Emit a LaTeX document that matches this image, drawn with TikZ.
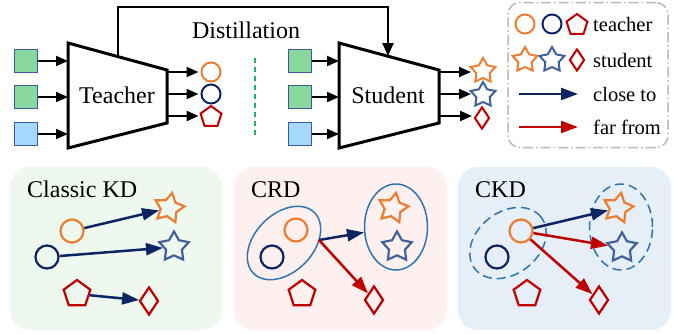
\documentclass[tikz,border=0pt]{standalone}
\usepackage{fontspec}
\setmainfont{Liberation Serif}
\usetikzlibrary{shapes.geometric,arrows.meta}
\definecolor{corange}{HTML}{ED7D31}
\definecolor{cnavy}{HTML}{0B2463}
\definecolor{cred}{HTML}{C00000}
\definecolor{cbstar}{HTML}{41619A}
\definecolor{cell}{HTML}{2E75B6}
\definecolor{sqgreen}{HTML}{88D8A0}
\definecolor{sqblue}{HTML}{A6D8FF}
\definecolor{sqedge}{HTML}{3B5A98}
\definecolor{pgreen}{HTML}{EFF8EE}
\definecolor{ppink}{HTML}{FDF0EF}
\definecolor{pblue}{HTML}{E6EEF7}
\definecolor{cdash}{HTML}{22B05A}
\begin{document}
\begin{tikzpicture}[x=1pt,y=-1pt,
  bigtext/.style={font=\fontsize{24}{28}\selectfont, inner sep=0pt},
  legtext/.style={font=\fontsize{20.5}{24}\selectfont, inner sep=0pt, anchor=base west},
  inbox/.style={draw=sqedge, line width=1.5pt, minimum size=23pt, inner sep=0pt},
  net/.style={draw=black, line width=3pt, line join=miter},
  feed/.style={draw=black, line width=2pt, -{Triangle[length=12pt,width=10pt]}},
  tcirc/.style={circle, draw=#1, line width=2pt, minimum size=19pt, inner sep=0pt},
  bcirc/.style={circle, draw=#1, line width=2.2pt, minimum size=23pt, inner sep=0pt},
  tpent/.style={regular polygon, regular polygon sides=5, draw=cred, line width=2pt, minimum size=22pt, inner sep=0pt},
  bpent/.style={regular polygon, regular polygon sides=5, draw=cred, line width=2.2pt, minimum size=28pt, inner sep=0pt},
  tstar/.style={star, star points=5, star point ratio=1.85, draw=#1, line width=2pt, minimum size=26pt, inner sep=0pt},
  bstar/.style={star, star points=5, star point ratio=1.85, draw=#1, line width=2.2pt, minimum size=31pt, inner sep=0pt},
  tdia/.style={diamond, draw=cred, line width=2pt, minimum width=15pt, minimum height=22pt, inner sep=0pt},
  bdia/.style={diamond, draw=cred, line width=2.2pt, minimum width=19pt, minimum height=28pt, inner sep=0pt},
  panel/.style={rounded corners=20pt, draw=none},
  closeto/.style={draw=cnavy, line width=2.5pt, -{Triangle[length=17pt,width=12pt]}},
  farfrom/.style={draw=cred, line width=2.5pt, -{Triangle[length=17pt,width=12pt]}},
  grpsolid/.style={ellipse, draw=cell, line width=1.5pt, inner sep=0pt},
  grpdash/.style={ellipse, draw=cell, line width=1.5pt, inner sep=0pt, dash pattern=on 9pt off 5pt},
]
\useasboundingbox (0,0) rectangle (683,333);

% ---------- top: teacher ----------
\node[inbox, fill=sqgreen] (ti1) at (26,61) {};
\node[inbox, fill=sqgreen] (ti2) at (26,97) {};
\node[inbox, fill=sqblue]  (ti3) at (26,134) {};
\coordinate (tA) at (68,43);
\coordinate (tB) at (167,70);
\coordinate (tC) at (167,123);
\coordinate (tD) at (68,148);
\draw[net] (tA) -- (tB) -- (tC) -- (tD) -- cycle;
\node[bigtext, anchor=base] (tlab) at (117,103) {Teacher};
\coordinate (tl1) at (68,61);
\coordinate (tl2) at (68,97);
\coordinate (tl3) at (68,134);
\draw[feed] (ti1.east) -- (tl1);
\draw[feed] (ti2.east) -- (tl2);
\draw[feed] (ti3.east) -- (tl3);
\node[tcirc=corange] (to1) at (211,72) {};
\node[tcirc=cnavy]   (to2) at (211,94) {};
\node[tpent]         (to3) at (211,117) {};
\coordinate (tr1) at (167,72);
\coordinate (tr2) at (167,94);
\coordinate (tr3) at (167,116);
\draw[feed] (tr1) -- ([xshift=-2pt]to1.west);
\draw[feed] (tr2) -- ([xshift=-2pt]to2.west);
\draw[feed] (tr3) -- ([xshift=-2pt]to3.west |- tr3);

% ---------- top: student ----------
\node[inbox, fill=sqgreen] (si1) at (300,61) {};
\node[inbox, fill=sqgreen] (si2) at (300,97) {};
\node[inbox, fill=sqblue]  (si3) at (300,134) {};
\coordinate (sA) at (339,43);
\coordinate (sB) at (439,70);
\coordinate (sC) at (439,123);
\coordinate (sD) at (339,148);
\draw[net] (sA) -- (sB) -- (sC) -- (sD) -- cycle;
\node[bigtext, anchor=base] (slab) at (388,103) {Student};
\coordinate (sl1) at (339,61);
\coordinate (sl2) at (339,97);
\coordinate (sl3) at (339,134);
\draw[feed] (si1.east) -- (sl1);
\draw[feed] (si2.east) -- (sl2);
\draw[feed] (si3.east) -- (sl3);
\node[tstar=corange] (so1) at (483,71) {};
\node[tstar=cbstar]  (so2) at (483,95) {};
\node[tdia]          (so3) at (482,118) {};
\coordinate (sr1) at (439,72);
\coordinate (sr2) at (439,94);
\coordinate (sr3) at (439,116);
\coordinate (se1) at (471,72);
\coordinate (se2) at (471,94);
\coordinate (se3) at (472,116);
\draw[feed] (sr1) -- (se1);
\draw[feed] (sr2) -- (se2);
\draw[feed] (sr3) -- (se3);

% ---------- distillation ----------
\coordinate (dsrc) at (118,57);
\coordinate (dup) at (118,7);
\coordinate (dover) at (388,7);
\coordinate (ddst) at (388,56);
\draw[draw=black, line width=2.5pt, line join=miter, -{Triangle[length=13pt,width=11pt]}] (dsrc) -- (dup) -- (dover) -- (ddst);
\node[bigtext, anchor=base] (dlab) at (246,38) {Distillation};
\coordinate (gd1) at (255,58);
\coordinate (gd2) at (255,136);
\draw[cdash, line width=1.6pt, dash pattern=on 5pt off 4pt] (gd1) -- (gd2);

% ---------- legend ----------
\node[draw=black!28, line width=1.5pt, rounded corners=12pt, dash pattern=on 10pt off 3pt on 1.5pt off 3pt,
      minimum width=160pt, minimum height=145pt, inner sep=0pt] (legend) at (588,75) {};
\node[tcirc=corange] (lg1) at (525,24) {};
\node[tcirc=cnavy]   (lg2) at (552,24) {};
\node[tpent]         (lg3) at (577,25) {};
\node[legtext] (lgt1) at (593,31) {teacher};
\node[tstar=corange] (lg4) at (525,60) {};
\node[tstar=cbstar]  (lg5) at (552,60) {};
\node[tdia]          (lg6) at (577,60) {};
\node[legtext] (lgt2) at (593,67) {student};
\coordinate (la1) at (519,94);
\coordinate (lb1) at (578,94);
\draw[closeto] (la1) -- (lb1);
\node[legtext] (lgt3) at (593,101) {close to};
\coordinate (la2) at (519,127);
\coordinate (lb2) at (578,127);
\draw[farfrom] (la2) -- (lb2);
\node[legtext] (lgt4) at (593,134) {far from};

% ---------- panel: Classic KD ----------
\fill[pgreen, panel] (10,167) rectangle (222,330);
\node[bigtext, anchor=base west] (p1lab) at (27,197) {Classic KD};
\node[bcirc=corange] (k1) at (72,231) {};
\node[bcirc=cnavy]   (k2) at (47,257) {};
\node[bpent]         (k3) at (77,294) {};
\node[bstar=corange, rotate=-12] (k4) at (169,208) {};
\node[bstar=cbstar]  (k5) at (174,247) {};
\node[bdia]          (k6) at (149,301) {};
\draw[closeto] (k1) -- (k4);
\draw[closeto] (k2) -- (k5);
\draw[closeto] (k3) -- (k6);

% ---------- panel: CRD ----------
\fill[ppink, panel] (234,167) rectangle (447,330);
\node[bigtext, anchor=base west] (p2lab) at (251,197) {CRD};
\node[grpsolid, minimum width=86pt, minimum height=58pt, rotate=45] (r1) at (284,243) {};
\node[grpsolid, minimum width=63pt, minimum height=86pt] (r2) at (396,227) {};
\node[bcirc=corange] (c1) at (296,230) {};
\node[bcirc=cnavy]   (c2) at (272,257) {};
\node[bpent]         (c3) at (302,294) {};
\node[bstar=corange, rotate=-12] (c4) at (393,208) {};
\node[bstar=cbstar]  (c5) at (397,247) {};
\node[bdia]          (c6) at (374,300) {};
\coordinate (crdo) at (319,240);
\draw[closeto] (crdo) -- (r2);
\draw[farfrom] (crdo) -- (c6);

% ---------- panel: CKD ----------
\fill[pblue, panel] (458,167) rectangle (671,330);
\node[bigtext, anchor=base west] (p3lab) at (475,197) {CKD};
\node[grpdash, minimum width=84pt, minimum height=62pt, rotate=38] (q1) at (508,243) {};
\node[grpdash, minimum width=63pt, minimum height=86pt] (q2) at (621,227) {};
\node[bcirc=corange] (d1) at (521,231) {};
\node[bcirc=cnavy]   (d2) at (497,257) {};
\node[bpent]         (d3) at (527,294) {};
\node[bstar=corange, rotate=-12] (d4) at (618,208) {};
\node[bstar=cbstar]  (d5) at (622,248) {};
\node[bdia]          (d6) at (599,300) {};
\draw[closeto] (d1) -- (d4);
\draw[farfrom] (d1) -- (d5);
\draw[farfrom] (d1) -- (d6);
\end{tikzpicture}
\end{document}
